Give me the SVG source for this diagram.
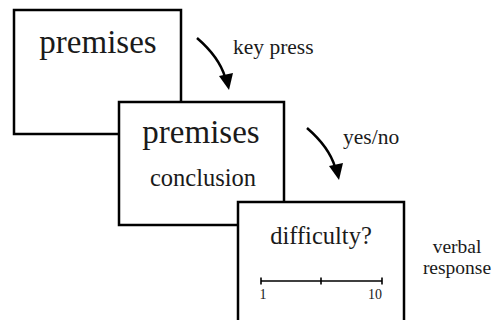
<svg xmlns="http://www.w3.org/2000/svg" width="502" height="320" viewBox="0 0 502 320">
<style>
.box{fill:#fff;stroke:#000;stroke-width:2.5}
text{font-family:'Liberation Serif',serif;fill:#1a1a1a}
.arr{fill:none;stroke:#000;stroke-width:2.5}
.ah{fill:#000}
.sc{stroke:#000;stroke-width:1.6;fill:none}
</style>
<rect width="502" height="320" fill="#fff"/>
<g id="screen1">
<rect class="box" x="14" y="10" width="167" height="124"/>
<text x="98" y="53" font-size="33" text-anchor="middle">premises</text>
</g>
<g id="screen2">
<rect class="box" x="119" y="102" width="165" height="123"/>
<text x="201" y="143" font-size="33" text-anchor="middle">premises</text>
<text x="203" y="186" font-size="24.5" text-anchor="middle">conclusion</text>
</g>
<g id="screen3">
<rect class="box" x="238" y="202" width="166" height="130"/>
<text x="321" y="244" font-size="24.5" text-anchor="middle">difficulty?</text>
<path class="sc" d="M261,281H382M261,277.5V284.5M321,277.5V284.5M382,277.5V284.5"/>
<text x="263" y="299" font-size="14" text-anchor="middle">1</text>
<text x="382" y="299" font-size="14" text-anchor="end">10</text>
</g>
<g id="connectors">
<path class="arr" d="M197,38 Q219,57 225,77"/>
<polygon class="ah" points="219,76 233,73 229,90"/>
<path class="arr" d="M307,128 Q329,147 335,167"/>
<polygon class="ah" points="329,166 343,163 339,180"/>
</g>
<g id="labels">
<text x="233" y="54" font-size="21.5">key press</text>
<text x="343" y="144" font-size="21.5">yes/no</text>
<text x="457" y="253" font-size="19.5" text-anchor="middle">verbal</text>
<text x="457" y="274" font-size="19.5" text-anchor="middle">response</text>
</g>
</svg>
